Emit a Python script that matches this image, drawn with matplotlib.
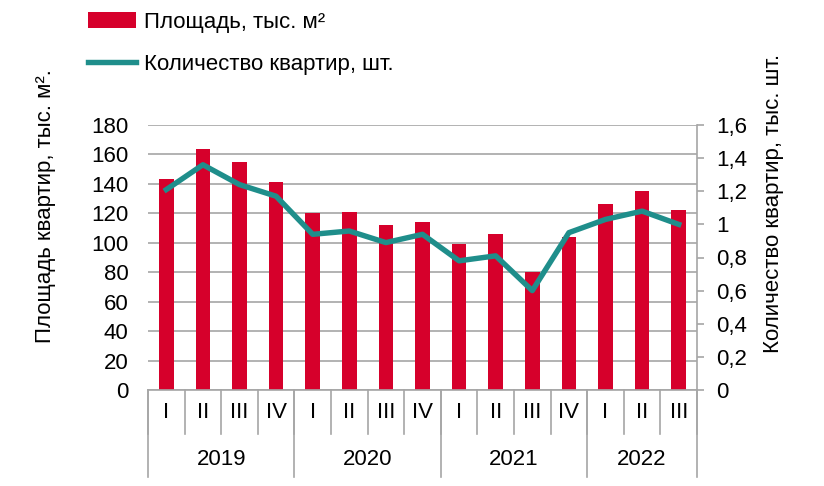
import numpy as np
import matplotlib.pyplot as plt
from matplotlib.ticker import FuncFormatter

plt.rcParams['font.family'] = ['Liberation Sans', 'DejaVu Sans']

years = ['2019', '2020', '2021', '2022']
quarters = ['I', 'II', 'III', 'IV', 'I', 'II', 'III', 'IV',
            'I', 'II', 'III', 'IV', 'I', 'II', 'III']
area = [143, 164, 155, 141, 120, 121, 112, 114,
        99, 106, 80, 104, 126, 135, 122]
flats = [1.21, 1.36, 1.24, 1.17, 0.94, 0.96, 0.89, 0.94,
         0.78, 0.81, 0.60, 0.95, 1.03, 1.08, 1.00]
year_quarters = [4, 4, 4, 3]

RED = '#d6002b'
TEAL = '#1f8e8b'
GRID = '#a6a6a6'
FS = 16

fig = plt.figure(figsize=(8.24, 4.86), dpi=100)
ax = fig.add_axes([148 / 824, 1 - 390 / 486, 549 / 824, 265 / 486])
ax2 = ax.twinx()

x = np.arange(len(area))
bars = ax.bar(x, area, width=0.4, color=RED, zorder=2,
              label='Площадь, тыс. м²')
line, = ax2.plot(x, flats, color=TEAL, lw=3.9, solid_joinstyle='round',
                 label='Количество квартир, шт.', zorder=3)

ax.set_xlim(-0.5, len(area) - 0.5)
ax.set_ylim(0, 180)
ax.set_yticks(np.arange(0, 181, 20))
ax2.set_ylim(0, 1.6)
ax2.set_yticks(np.arange(0, 1.61, 0.2))

def comma(v, pos):
    s = '{:.1f}'.format(v)
    if s.endswith('.0'):
        s = s[:-2]
    return s.replace('.', ',')

ax2.yaxis.set_major_formatter(FuncFormatter(comma))

ax.yaxis.grid(True, color=GRID, lw=1.2)
ax.set_axisbelow(True)
for s in ['top', 'left', 'right']:
    ax.spines[s].set_visible(False)
for s in ['top', 'left', 'bottom']:
    ax2.spines[s].set_visible(False)
ax.spines['bottom'].set_color(GRID)
ax.spines['bottom'].set_linewidth(1.2)
ax2.spines['right'].set_color(GRID)
ax2.spines['right'].set_linewidth(1.2)

ax.tick_params(axis='y', length=0, pad=14, labelsize=FS)
ax.tick_params(axis='x', length=0, labelbottom=False)
ax2.tick_params(axis='y', length=5, width=1.2, color=GRID, pad=9,
                labelsize=FS)

# two-level category axis
h = 265.0
tr = ax.get_xaxis_transform()
for i in range(len(area) + 1):
    ax.plot([i - 0.5, i - 0.5], [0, -44 / h], transform=tr, color=GRID,
            lw=1.2, clip_on=False)
for i, q in enumerate(quarters):
    ax.text(i, -22 / h, q, transform=tr, ha='center', va='center',
            fontsize=FS)
start = 0
for y, n in zip(years, year_quarters):
    ax.plot([start - 0.5, start - 0.5], [0, -87 / h], transform=tr,
            color=GRID, lw=1.2, clip_on=False)
    ax.text(start + n / 2 - 0.5, -69 / h, y, transform=tr, ha='center',
            va='center', fontsize=FS)
    start += n
ax.plot([start - 0.5, start - 0.5], [0, -87 / h], transform=tr,
        color=GRID, lw=1.2, clip_on=False)

fig.text(46 / 824, 1 - 206 / 486, 'Площадь квартир, тыс. м².', rotation=90,
         ha='center', va='center', fontsize=FS)
fig.text(773 / 824, 1 - 203 / 486, 'Количество квартир, тыс. шт.',
         rotation=90, ha='center', va='center', fontsize=FS)

fig.legend(handles=[bars, line], loc='upper left',
           bbox_to_anchor=(68 / 824, 1 + 8 / 486), frameon=False,
           fontsize=FS, handlelength=2.16, handletextpad=0.36,
           labelspacing=0.93)

fig.savefig('out.png', dpi=100)
